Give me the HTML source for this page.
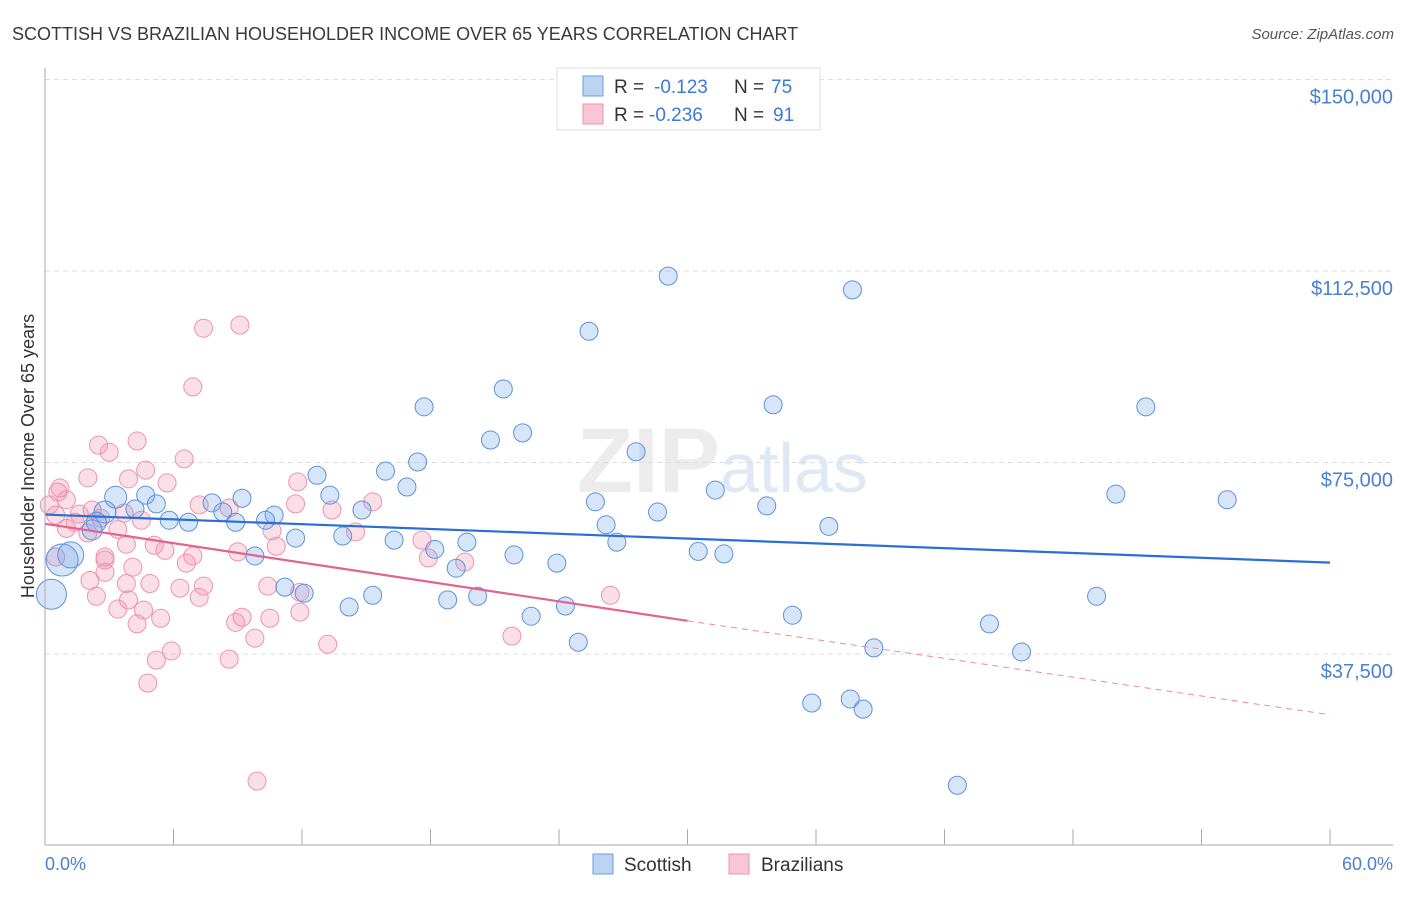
<!DOCTYPE html>
<html><head><meta charset="utf-8"><style>
body{margin:0;background:#fff;font-family:"Liberation Sans",sans-serif}
svg text{font-family:"Liberation Sans",sans-serif}
</style></head><body>
<svg id="c" width="1406" height="892">
<text x="12" y="40" font-size="18" fill="#3a3a3a">SCOTTISH VS BRAZILIAN HOUSEHOLDER INCOME OVER 65 YEARS CORRELATION CHART</text>
<text x="1394" y="39" font-size="15" fill="#555" text-anchor="end" font-style="italic">Source: ZipAtlas.com</text>
<text x="720" y="492" font-size="92" fill="#ececec" text-anchor="end" font-family="Liberation Serif" font-weight="bold">ZIP</text>
<text x="720" y="492" font-size="70" fill="#dfe9f6">atlas</text>
<g id="grid"></g><g id="pts"></g><g id="lines"></g>
<line x1="45" y1="68" x2="45" y2="845" stroke="#aaa"/>
<line x1="45" y1="845" x2="1393" y2="845" stroke="#aaa"/>
<text x="45" y="870" font-size="18" fill="#4a80d0">0.0%</text>
<text x="1393" y="870" font-size="18" fill="#4a80d0" text-anchor="end">60.0%</text>
<text transform="translate(34,456) rotate(-90)" font-size="18" fill="#333" text-anchor="middle">Householder Income Over 65 years</text>
<g>
<rect x="557" y="68" width="263" height="62" fill="#fff" stroke="#ddd"/>
<rect x="583" y="76" width="20" height="20" fill="#bcd4f4" stroke="#6a9be0"/>
<rect x="583" y="104" width="20" height="20" fill="#f9c6d6" stroke="#ec93b0"/>
<text y="93" font-size="19" fill="#333"><tspan x="614">R = </tspan><tspan x="654" fill="#3c78d8">-0.123</tspan><tspan x="734">N = </tspan><tspan x="771" fill="#3c78d8">75</tspan></text>
<text y="121" font-size="19" fill="#333"><tspan x="614">R = </tspan><tspan x="649" fill="#3c78d8">-0.236</tspan><tspan x="734">N = </tspan><tspan x="773" fill="#3c78d8">91</tspan></text>
</g>
<rect x="593" y="854" width="20" height="20" fill="#bcd4f4" stroke="#6a9be0"/>
<text x="624" y="871" font-size="19" fill="#333">Scottish</text>
<rect x="729" y="854" width="20" height="20" fill="#f9c6d6" stroke="#ec93b0"/>
<text x="761" y="871" font-size="19" fill="#333">Brazilians</text>
</svg>
<script>
const yTicks=[37500,75000,112500,150000];
const yTickLabels=["$37,500","$75,000","$112,500","$150,000"];
const xTicks=[0,6,12,18,24,30,36,42,48,54,60];
const blueX=[29.1,37.7,25.4,21.4,17.7,34.0,51.4,22.3,20.8,27.6,17.4,15.9,12.7,16.9,31.3,50.0,55.2,13.3,9.2,4.7,3.3,5.2,7.8,25.7,33.7,28.6,14.8,10.7,8.3,4.2,2.8,5.8,6.7,8.9,10.3,26.2,36.6,2.4,2.2,13.9,11.7,16.3,26.7,19.7,18.2,30.5,31.7,21.9,9.8,23.9,19.2,1.2,0.8,11.2,12.1,15.3,20.2,18.8,49.1,0.3,14.2,24.3,22.7,34.9,44.1,24.9,38.7,45.6,35.8,37.6,38.2,42.6];
const blueY=[111500,108800,100700,89400,85900,86300,85900,80800,79400,77100,75100,73300,72500,70200,69600,68800,67700,68600,68000,68600,68200,66900,67100,67300,66500,65300,65700,64700,65300,65900,65300,63700,63300,63300,63700,62800,62500,63300,61800,60600,60200,59800,59400,59400,58000,57600,57100,56900,56700,55300,54300,56900,55900,50600,49400,49000,48800,48100,48800,49200,46700,46900,44900,45100,43400,39800,38700,37900,27900,28700,26700,11800];
const blueR=[9,9,9,9,9,9,9,9,9,9,9,9,9,9,9,9,9,9,9,9,11,9,9,9,9,9,9,9,9,9,11,9,9,9,9,9,9,10,10,9,9,9,9,9,9,9,9,9,9,9,9,13,16,9,9,9,9,9,9,15,9,9,9,9,9,9,9,9,9,9,9,9];
const pinkX=[9.1,7.4,6.9,2.5,4.3,3.0,6.5,4.7,3.9,2.0,11.8,5.7,0.7,0.6,1.0,0.2,15.3,11.7,7.2,8.6,13.4,2.2,1.6,3.7,0.5,2.6,4.5,1.4,1.0,3.4,2.0,14.5,10.6,17.6,3.8,5.1,10.8,5.6,9.0,2.8,6.9,0.5,17.9,19.6,2.8,6.6,4.1,2.8,2.1,4.9,3.8,7.4,10.4,6.3,11.9,26.4,2.4,7.2,3.9,3.4,4.6,11.9,9.2,10.5,5.4,8.9,4.3,21.8,9.8,13.2,5.9,5.2,8.6,4.8,9.9];
const pinkY=[101900,101300,89800,78400,79200,77000,75700,73500,71800,72000,71200,71000,70000,69200,67700,66700,67300,66900,66700,66100,65700,65700,64900,65100,64700,64100,63700,63300,62100,61900,61200,61400,61600,59800,59000,58800,58600,57800,57500,56500,56700,56500,56300,55500,55900,55300,54500,53500,51900,51300,51300,50800,50800,50400,49600,49000,48800,48600,48100,46300,46100,45700,44700,44500,44500,43700,43400,41000,40600,39400,38100,36300,36500,31800,12600];
const trendX=[0,30,60];
const blueTrend=[64800,60100,55400];
const pinkTrend=[63000,44000,25600];
const X=v=>45+v/60*1285, Y=v=>845.5-v/37500*191.5;
const NS="http://www.w3.org/2000/svg";
function mk(t,a,p){const e=document.createElementNS(NS,t);for(const k in a)e.setAttribute(k,a[k]);p.appendChild(e);return e;}
const grid=document.getElementById('grid');
yTicks.forEach((v,i)=>{
 const l=mk('line',{x1:45,x2:1393,y1:Y(v),y2:Y(v),stroke:'#ddd','stroke-dasharray':'5,4'},grid);
 
 
 const t=mk('text',{x:1393,y:Y(v)+24,'font-size':20,fill:'#4a80d0','text-anchor':'end'},grid);
 t.textContent=yTickLabels[i];
 
 
});
xTicks.forEach(v=>{
 const l=mk('line',{x1:X(v),x2:X(v),y1:829,y2:845,stroke:'#aaa'},grid);
 
 
});
const pts=document.getElementById('pts');
pinkX.forEach((v,i)=>{
 const c=mk('circle',{cx:X(v),cy:Y(pinkY[i]),r:9,fill:'rgba(240,140,170,0.28)',stroke:'#ec93b0','stroke-width':1},pts);
 
 
});
blueX.forEach((v,i)=>{
 const c=mk('circle',{cx:X(v),cy:Y(blueY[i]),r:blueR[i],fill:'rgba(110,160,230,0.28)',stroke:'#5d92dc','stroke-width':1},pts);
 
 
});
const lines=document.getElementById('lines');
const bl=mk('line',{x1:X(trendX[0]),y1:Y(blueTrend[0]),x2:X(trendX[2]),y2:Y(blueTrend[2]),stroke:'#2a6fd6','stroke-width':2.2},lines);


const pl=mk('line',{x1:X(trendX[0]),y1:Y(pinkTrend[0]),x2:X(trendX[1]),y2:Y(pinkTrend[1]),stroke:'#e4628e','stroke-width':2.2},lines);


const pd=mk('line',{x1:X(trendX[1]),y1:Y(pinkTrend[1]),x2:X(trendX[2]),y2:Y(pinkTrend[2]),stroke:'#e88aa8','stroke-width':1,'stroke-dasharray':'6,5'},lines);


</script>
</body></html>
